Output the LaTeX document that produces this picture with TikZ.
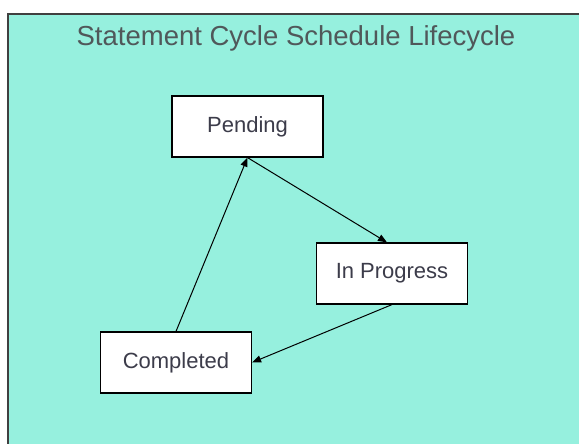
\documentclass[tikz,border=0pt]{standalone}
\usepackage{fontspec}
\setmainfont{Liberation Sans}
\usetikzlibrary{arrows.meta}
\definecolor{bgteal}{HTML}{96F0DE}
\definecolor{txtgray}{HTML}{3C3C4A}
\definecolor{titlegray}{HTML}{50585A}
\begin{document}
\begin{tikzpicture}[x=1pt,y=-1pt,
  statebox/.style={draw=black,fill=white,line width=1.2pt,minimum width=151pt,minimum height=61pt,inner sep=0pt,font=\fontsize{22}{26}\selectfont,text=txtgray},
  conn/.style={line width=1pt,-{Triangle[length=9pt,width=7pt]}}]
\useasboundingbox (0,0) rectangle (579,444);
\draw[fill=bgteal,draw=black!75,line width=1.4pt] (8,14) rectangle (582,448);
\node[font=\fontsize{27.5}{32}\selectfont,text=titlegray] (title) at (296,38) {Statement Cycle Schedule Lifecycle};
\node[statebox] (pend) at (247.5,126.5) {Pending};
\node[statebox] (prog) at (392,273.5) {In Progress};
\node[statebox] (comp) at (176,362.5) {Completed};
\draw[conn] (pend.south) -- (prog.north -| 387,0);
\draw[conn] (comp.north) -- (pend.south);
\draw[conn] (prog.south) -- (comp.east);
\end{tikzpicture}
\end{document}
